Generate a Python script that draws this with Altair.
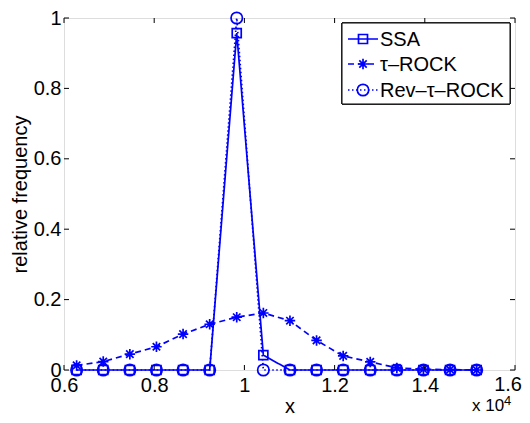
import altair as alt
import pandas as pd

# ---- data ----
x_vals = [6280, 6870, 7460, 8050, 8640, 9230, 9830, 10420,
          11010, 11600, 12190, 12790, 13380, 13970, 14560, 15150]
ssa = [0, 0, 0, 0, 0, 0, 0.957, 0.042, 0, 0, 0, 0, 0, 0, 0, 0]
tau = [0.013, 0.024, 0.045, 0.066, 0.102, 0.130, 0.150, 0.162,
       0.140, 0.084, 0.040, 0.023, 0.006, 0.002, 0.001, 0.0]
rev = [0, 0, 0, 0, 0, 0, 1.0, 0, 0, 0, 0, 0, 0, 0, 0, 0]
x_ticks = [6000, 8000, 10000, 12000, 14000, 16000]
y_ticks = [0, 0.2, 0.4, 0.6, 0.8, 1.0]
legend_labels = ["SSA", "τ–ROCK", "Rev–τ–ROCK"]
x_title = "x"
y_title = "relative frequency"

W, H = 451, 352
BLUE = "#0000ff"
FONT = "Liberation Sans"
FS = 20
ASTERISK = ("M0,-1L0,1M-1,0L1,0M-0.7071,-0.7071L0.7071,0.7071"
            "M-0.7071,0.7071L0.7071,-0.7071")

df = pd.DataFrame({"x": x_vals, "ssa": ssa, "tau": tau, "rev": rev})

xs = alt.Scale(domain=[6000, 16000], nice=False, zero=False)
ys = alt.Scale(domain=[0, 1], nice=False, zero=False)

last_x = x_ticks[-1]
xaxis = alt.Axis(values=x_ticks,
                 labelExpr=f"datum.value == {last_x} ? '' : format(datum.value/10000, '~g')",
                 title=x_title, domain=False, ticks=False, tickSize=0, grid=False,
                 labelPadding=21, labelBaseline="alphabetic", labelFontSize=FS,
                 labelColor="black", labelFont=FONT, labelFlush=False,
                 titleFont=FONT, titleFontSize=FS, titleFontWeight="normal",
                 titleColor="black", titleX=W / 2, titleY=42,
                 titleBaseline="alphabetic", titleAlign="center")
yaxis = alt.Axis(values=y_ticks, format="~g", title=y_title, domain=False,
                 ticks=False, tickSize=0, grid=False, labelPadding=3,
                 labelFontSize=FS, labelColor="black", labelFont=FONT,
                 labelFlush=False, labelBaseline="middle",
                 titleFont=FONT, titleFontSize=FS, titleFontWeight="normal",
                 titleColor="black", titleX=-38, titleY=H / 2,
                 titleAngle=270, titleBaseline="alphabetic", titleAlign="center")

X = alt.X("x:Q", scale=xs, axis=xaxis)
base = alt.Chart(df)


def series(col, dash, shape, size):
    line = base.mark_line(color=BLUE, strokeWidth=1.7, strokeDash=dash).encode(
        x=X, y=alt.Y(f"{col}:Q", scale=ys, axis=yaxis))
    pts = base.mark_point(color=BLUE, shape=shape, size=size, filled=False,
                          strokeWidth=1.7, opacity=1).encode(
        x=X, y=alt.Y(f"{col}:Q", scale=ys, axis=yaxis))
    return [line, pts]


layers = []
layers += series("ssa", [1, 0], "square", 81)
layers += series("tau", [6, 4], ASTERISK, 110)
layers += series("rev", [1.5, 2.5], "circle", 130)

# inward ticks (MATLAB box style)
xt = alt.Chart(pd.DataFrame({"x": x_ticks}))
yt = alt.Chart(pd.DataFrame({"y": y_ticks}))
Y = alt.Y("y:Q", scale=ys, axis=yaxis)
layers += [
    xt.mark_rule(color="black", strokeWidth=1).encode(x=X, y=alt.value(H), y2=alt.value(H - 5)),
    xt.mark_rule(color="black", strokeWidth=1).encode(x=X, y=alt.value(0), y2=alt.value(5)),
    yt.mark_rule(color="black", strokeWidth=1).encode(y=Y, x=alt.value(0), x2=alt.value(5)),
    yt.mark_rule(color="black", strokeWidth=1).encode(y=Y, x=alt.value(W), x2=alt.value(W - 5)),
]

# last x tick label, kept inside the drawing area
layers.append(alt.Chart(pd.DataFrame({"t": [f"{last_x/10000:g}"]})).mark_text(
    font=FONT, fontSize=FS, color="black", align="right", baseline="alphabetic").encode(
    x=alt.value(W + 7), y=alt.value(H + 21), text="t:N"))

# legend
lg = alt.Chart(pd.DataFrame({"label": legend_labels}))
LX0, LX1, LY0, LY1 = 278, 446, 5, 86
rows = [21, 46, 72]
layers.append(lg.mark_rect(fill="white", stroke="black", strokeWidth=1).encode(
    x=alt.value(LX0), x2=alt.value(LX1), y=alt.value(LY0), y2=alt.value(LY1)))
styles = [([1, 0], "square", 81), ([6, 4], ASTERISK, 110), ([1.5, 2.5], "circle", 130)]
for i, (lab, (dash, shape, size)) in enumerate(zip(legend_labels, styles)):
    sub = alt.Chart(pd.DataFrame({"label": [lab]}))
    layers.append(sub.mark_rule(color=BLUE, strokeWidth=1.7, strokeDash=dash).encode(
        x=alt.value(284), x2=alt.value(314), y=alt.value(rows[i])))
    layers.append(sub.mark_point(color=BLUE, shape=shape, size=size, filled=False,
                                 strokeWidth=1.7, opacity=1).encode(
        x=alt.value(299), y=alt.value(rows[i])))
    layers.append(sub.mark_text(font=FONT, fontSize=FS, color="black", align="left",
                                baseline="middle").encode(
        x=alt.value(316), y=alt.value(rows[i] + 1), text="label:N"))

# exponent annotation
layers.append(alt.Chart(pd.DataFrame({"t": ["x 10"]})).mark_text(
    font=FONT, fontSize=17, color="black", align="left", baseline="alphabetic").encode(
    x=alt.value(408), y=alt.value(H + 41), text="t:N"))
layers.append(alt.Chart(pd.DataFrame({"t": ["4"]})).mark_text(
    font=FONT, fontSize=13, color="black", align="left", baseline="alphabetic").encode(
    x=alt.value(440), y=alt.value(H + 35), text="t:N"))

chart = alt.layer(*layers).properties(
    width=W, height=H,
    autosize=alt.AutoSizeParams(type="none"),
    padding={"left": 56, "top": 10, "right": 7, "bottom": 45},
).configure_view(stroke="black", strokeWidth=1).configure(font=FONT)

chart.save("out.html", embed_options={"renderer": "svg", "actions": False})
